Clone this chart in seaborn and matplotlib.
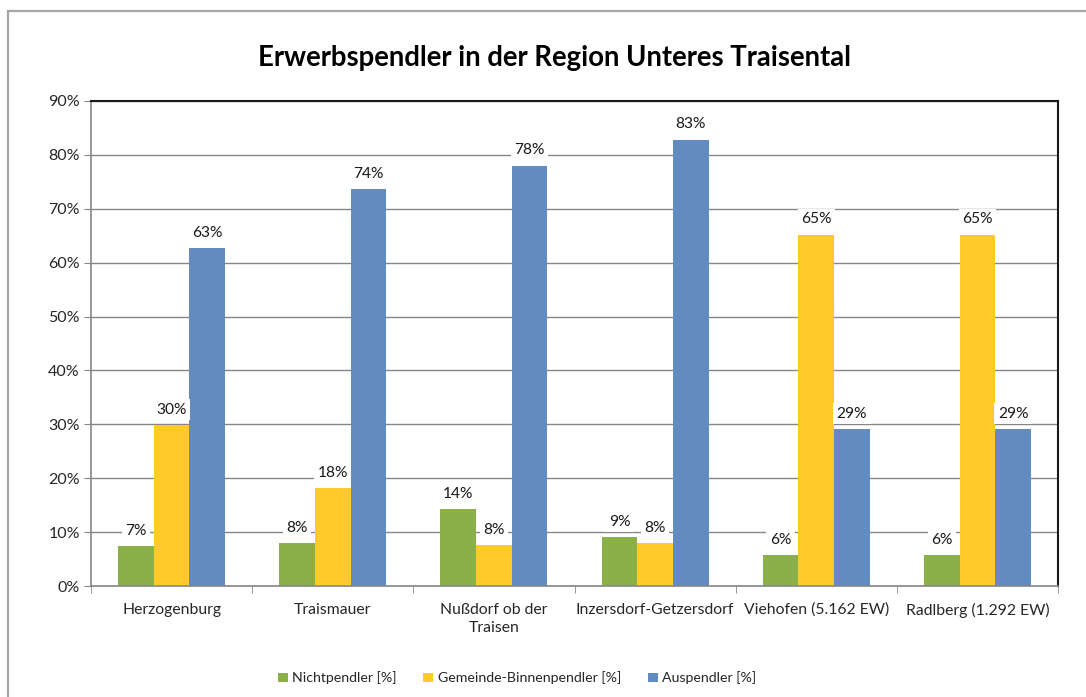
import matplotlib
matplotlib.use("Agg")
import matplotlib.pyplot as plt
from matplotlib.patches import Rectangle
from matplotlib.ticker import FixedLocator, FuncFormatter
import seaborn as sns
import pandas as pd

# ---- data ----
orte = ["Herzogenburg", "Traismauer", "Nußdorf ob der\nTraisen",
        "Inzersdorf-Getzersdorf", "Viehofen (5.162 EW)", "Radlberg (1.292 EW)"]
nichtpendler = [7.4, 8.0, 14.3, 9.1, 5.75, 5.75]
binnenpendler = [29.9, 18.2, 7.6, 8.0, 65.2, 65.2]
auspendler = [62.7, 73.7, 78.0, 82.8, 29.1, 29.1]
serien = ["Nichtpendler [%]", "Gemeinde-Binnenpendler [%]", "Auspendler [%]"]
farben = ["#8CB048", "#FFCA2A", "#628BC2"]
title = "Erwerbspendler in der Region Unteres Traisental"

df = pd.DataFrame({
    "Ort": orte * 3,
    "Serie": [serien[0]] * 6 + [serien[1]] * 6 + [serien[2]] * 6,
    "Wert": nichtpendler + binnenpendler + auspendler,
})

sns.set_style("white")
plt.rcParams["font.family"] = ["Lato", "DejaVu Sans"]

fig = plt.figure(figsize=(10.86, 6.97), dpi=100)
ax = fig.add_axes([91/1086, 1-586/697, (1058-91)/1086, (586-101)/697])

sns.barplot(data=df, x="Ort", y="Wert", hue="Serie", order=orte, hue_order=serien,
            palette=farben, width=0.664, saturation=1, ax=ax, legend=True,
            edgecolor="none", linewidth=0)

for cont in ax.containers:
    vals = cont.datavalues
    ax.bar_label(cont, labels=[f"{round(v)}%" for v in vals], padding=6,
                 fontsize=11.2, color="#1a1a1a",
                 bbox=dict(facecolor="white", edgecolor="none", pad=2.5))

ax.set_ylim(0, 90)
ax.set_xlim(-0.5, 5.5)
ax.yaxis.set_major_locator(FixedLocator(list(range(0, 91, 10))))
ax.yaxis.set_major_formatter(FuncFormatter(lambda v, p: f"{int(round(v))}%"))
ax.yaxis.grid(True, color="#868686", lw=1)
ax.set_axisbelow(True)
ax.set_xlabel("")
ax.set_ylabel("")
ax.tick_params(axis="y", length=5, color="#868686", labelsize=11.5, pad=3, left=True)
ax.tick_params(axis="x", which="major", length=0, labelsize=11.3, pad=12)
ax.xaxis.set_minor_locator(FixedLocator([i - 0.5 for i in range(7)]))
ax.tick_params(axis="x", which="minor", length=5, color="#868686", bottom=True)
for lab in ax.get_xticklabels():
    lab.set_linespacing(1.4)

for s in ["left", "bottom"]:
    ax.spines[s].set_color("#868686")
    ax.spines[s].set_linewidth(1.2)
for s in ["top", "right"]:
    ax.spines[s].set_color("#1a1a1a")
    ax.spines[s].set_linewidth(1.5)

leg = ax.legend(loc="center", bbox_to_anchor=(517/1086, 1-678/697),
                bbox_transform=fig.transFigure, ncol=3, frameon=False,
                fontsize=10.2, handlelength=0.7, handleheight=0.7,
                handletextpad=0.3, columnspacing=1.9)

fig.text(554/1086, 1-58/697, title, ha="center", va="center",
         fontsize=19.8, fontweight="bold", color="#000000")

fig.patches.append(Rectangle((7.5/1086, -0.2), 2, 1.2 - 10.5/697,
                             transform=fig.transFigure, fill=False,
                             edgecolor="#A6A6A6", lw=1.6))

fig.savefig("out.png", dpi=100, facecolor="white")
